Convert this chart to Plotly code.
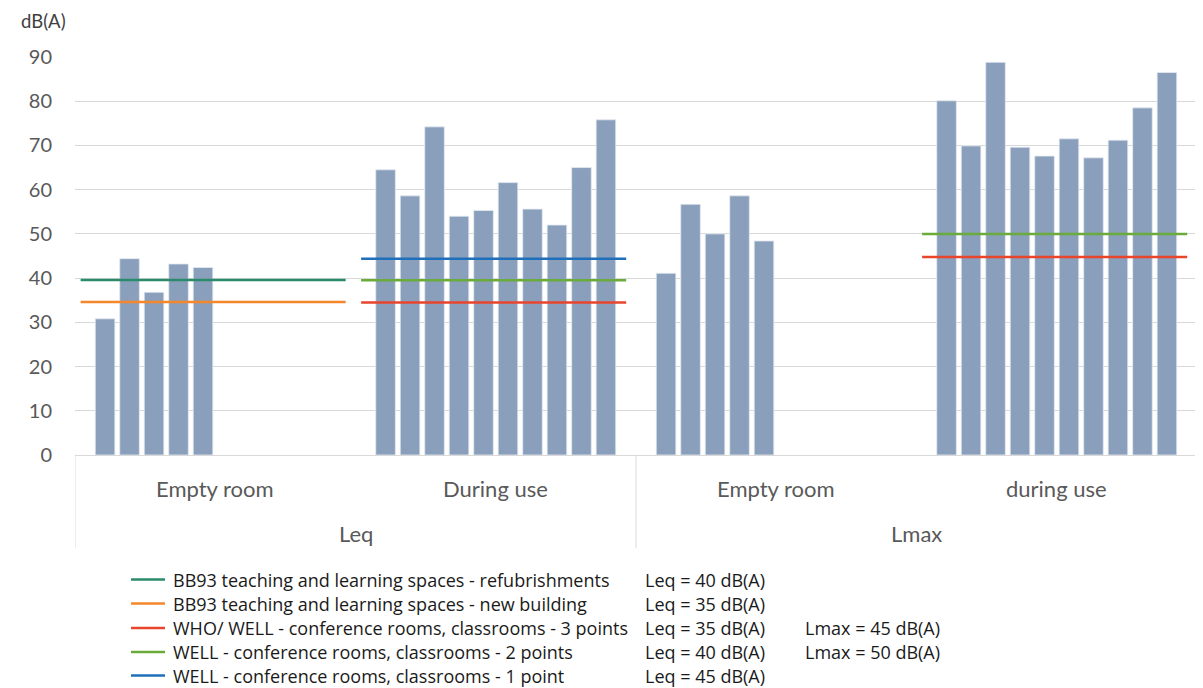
import plotly.graph_objects as go

# ---------------- data ----------------
outer_cats = ["Leq", "Leq", "Lmax", "Lmax"]
inner_cats = ["Empty room", "During use", "Empty room", "during use"]
outer_labels = ["Leq", "Lmax"]

leq_empty = [30.8, 44.4, 36.8, 43.2, 42.4]
leq_use = [64.5, 58.6, 74.2, 54.0, 55.3, 61.6, 55.6, 52.0, 65.0, 75.8]
lmax_empty = [41.1, 56.7, 50.0, 58.6, 48.4]
lmax_use = [80.1, 69.9, 88.8, 69.6, 67.6, 71.5, 67.2, 71.2, 78.5, 86.5]

line_names = [
    "BB93 teaching and learning spaces - refubrishments",
    "BB93 teaching and learning spaces - new building",
    "WHO/ WELL - conference rooms, classrooms - 3 points",
    "WELL - conference rooms, classrooms - 2 points",
    "WELL - conference rooms, classrooms - 1 point",
]
line_groups = [[0], [0], [1, 3], [1, 3], [1]]
line_values = [[39.6], [34.6], [34.5, 44.8], [39.5, 50.0], [44.4]]
line_colors = ["#2B8A6A", "#F4862C", "#E8452C", "#6AAB3B", "#1F6FBA"]

leq_labels = ["Leq = 40 dB(A)", "Leq = 35 dB(A)", "Leq = 35 dB(A)", "Leq = 40 dB(A)", "Leq = 45 dB(A)"]
lmax_labels = ["", "", "Lmax = 45 dB(A)", "Lmax = 50 dB(A)", ""]

y_ticks = list(range(0, 100, 10))

# ---------------- styling ----------------
BAR_COLOR = "#8A9FBB"
GRID = "#D9D9D9"
AXIS_TEXT = "#595959"
CHART_FONT = "Lato"
LEG_FONT = "Open Sans"
LEG_SIZE = 18
LINE_START, LINE_END = 0.02, 0.965  # fraction of a category band

# the page body has an 8px default margin, so the figure is offset inside the window
PAGE_W, PAGE_H, BODY = 1203, 688, 8
W, H = PAGE_W - BODY, PAGE_H - BODY
# plot-area edges in page pixels of the target layout
PLOT_LEFT, PLOT_RIGHT, PLOT_TOP, PLOT_BOTTOM = 75, 1197, 57, 455
ML, MR = PLOT_LEFT - BODY, PAGE_W - PLOT_RIGHT
MT, MB = PLOT_TOP - BODY, PAGE_H - PLOT_BOTTOM
PLOT_H = PLOT_BOTTOM - PLOT_TOP
PLOT_W = PLOT_RIGHT - PLOT_LEFT


def py_to_paper(py):
    return (PLOT_BOTTOM - py) / PLOT_H


def px_to_paper(px):
    return (px - PLOT_LEFT) / PLOT_W


fig = go.Figure()

# bars: one trace per slot inside each category cluster
n_slots = max(len(leq_use), len(lmax_use))
series_by_cat = [leq_empty, leq_use, lmax_empty, lmax_use]
for k in range(n_slots):
    ys = [s[k] if k < len(s) else None for s in series_by_cat]
    fig.add_trace(go.Bar(
        x=[outer_cats, inner_cats], y=ys,
        marker=dict(color=BAR_COLOR, line=dict(color="#E4EAF1", width=0.8)),
        showlegend=False, hoverinfo="y",
    ))

# threshold lines (on an overlaid numeric axis that shares the category bands)
for name, groups, vals, col in zip(line_names, line_groups, line_values, line_colors):
    xs, ys = [], []
    for g, v in zip(groups, vals):
        xs += [g - 0.5 + LINE_START, g - 0.5 + LINE_END, None]
        ys += [v, v, None]
    fig.add_trace(go.Scatter(
        x=xs, y=ys, mode="lines", name=name, xaxis="x2", yaxis="y",
        line=dict(color=col, width=2.5), hoverinfo="skip", showlegend=False,
    ))

annotations = []
shapes = []

# category labels (two levels) and box dividers
for i, lab in enumerate(inner_cats):
    annotations.append(dict(text=lab, x=i, y=py_to_paper(488), xref="x2", yref="paper",
                            xanchor="center", yanchor="middle", showarrow=False,
                            font=dict(family=CHART_FONT, size=22, color=AXIS_TEXT)))
for j, lab in enumerate(outer_labels):
    annotations.append(dict(text=lab, x=2 * j + 0.5, y=py_to_paper(533), xref="x2", yref="paper",
                            xanchor="center", yanchor="middle", showarrow=False,
                            font=dict(family=CHART_FONT, size=22, color=AXIS_TEXT)))
for j in range(len(outer_labels) + 1):
    shapes.append(dict(type="line", xref="x2", yref="paper", x0=2 * j - 0.5, x1=2 * j - 0.5,
                       y0=0, y1=py_to_paper(548), line=dict(color=GRID, width=1)))

# legend (drawn as real text + line samples)
legend_rows = [579.5, 603.5, 628.0, 652.0, 675.5]
for row, name, col, t1, t2 in zip(legend_rows, line_names, line_colors, leq_labels, lmax_labels):
    yp = py_to_paper(row)
    shapes.append(dict(type="line", xref="paper", yref="paper",
                       x0=px_to_paper(131), x1=px_to_paper(165), y0=yp, y1=yp,
                       line=dict(color=col, width=2.5)))
    annotations.append(dict(text=name, x=px_to_paper(171), y=yp, xref="paper", yref="paper",
                            xanchor="left", yanchor="middle", showarrow=False,
                            font=dict(family=LEG_FONT, size=LEG_SIZE, color="#1a1a1a")))
    annotations.append(dict(text=t1, x=px_to_paper(643), y=yp, xref="paper", yref="paper",
                            xanchor="left", yanchor="middle", showarrow=False,
                            font=dict(family=LEG_FONT, size=LEG_SIZE, color="#1a1a1a")))
    if t2:
        annotations.append(dict(text=t2, x=px_to_paper(803), y=yp, xref="paper", yref="paper",
                                xanchor="left", yanchor="middle", showarrow=False,
                                font=dict(family=LEG_FONT, size=LEG_SIZE, color="#1a1a1a")))

annotations.append(dict(text="dB(A)", x=px_to_paper(19), y=py_to_paper(21), xref="paper", yref="paper",
                        xanchor="left", yanchor="middle", showarrow=False,
                        font=dict(family=CHART_FONT, size=18.5, color="#404040")))

fig.update_layout(
    width=W, height=H,
    margin=dict(l=ML, r=MR, t=MT, b=MB, pad=0, autoexpand=False),
    paper_bgcolor="white", plot_bgcolor="white",
    barmode="group", bargap=0.127, bargroupgap=0.2,
    showlegend=False,
    font=dict(family=CHART_FONT, color=AXIS_TEXT),
    xaxis=dict(type="multicategory", showline=True, linecolor=GRID, linewidth=1,
               showgrid=False, ticks="", showticklabels=False, showdividers=False),
    xaxis2=dict(overlaying="x", range=[-0.5, 3.5], visible=False, anchor="y"),
    yaxis=dict(range=[0, 90], tickvals=y_ticks, showgrid=True, gridcolor=GRID, gridwidth=1,
               zeroline=False, showline=False, ticks="", ticklabelstandoff=22,
               tickfont=dict(family=CHART_FONT, size=20, color=AXIS_TEXT)),
    annotations=annotations,
    shapes=shapes,
)

fig.write_html("out.html")
